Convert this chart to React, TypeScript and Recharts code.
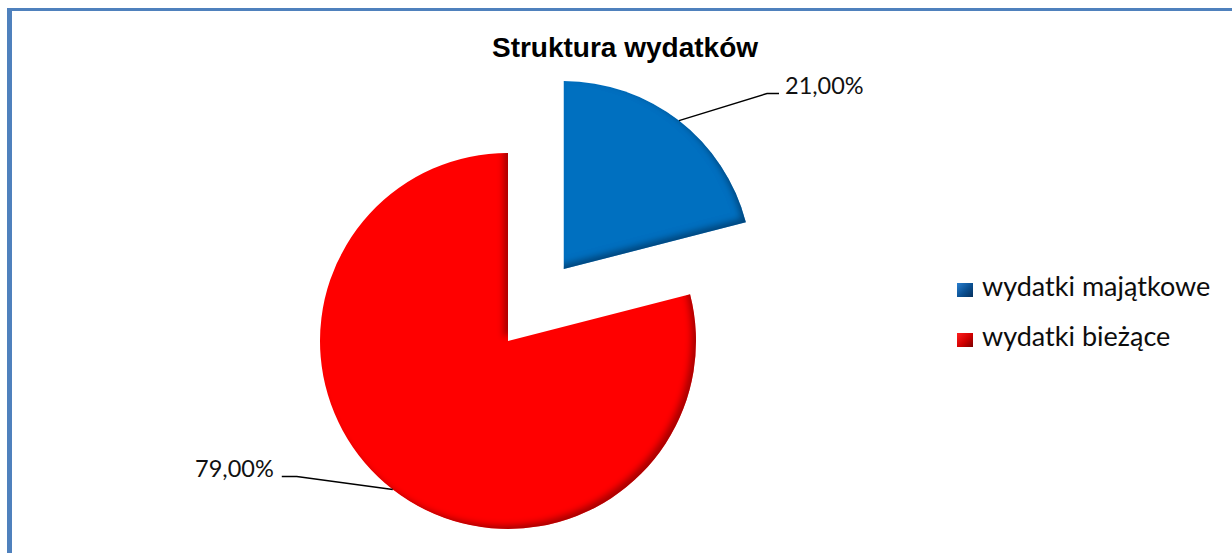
import React from 'react';
import { PieChart, Pie, Cell, Legend } from 'recharts';

const categories = ['wydatki majątkowe', 'wydatki bieżące'];
const shares = [21, 79];
const labelTexts = ['21,00%', '79,00%'];
const sliceColors = ['#0070C0', '#FF0000'];
const markerGradients = [
  'linear-gradient(135deg, #2a7fcf 0%, #0a4f91 55%, #06305c 100%)',
  'linear-gradient(135deg, #ff2020 0%, #d00000 55%, #7a0000 100%)',
];

const data = categories.map((name, i) => ({ name, value: shares[i] }));

const W = 1232;
const H = 553;
const CX = 508;
const CY = 341;
const R = 188;
const EXPLODE = 91;
const RADIAN = Math.PI / 180;

// blue slice is pulled out along its middle angle
const total = shares.reduce((a, b) => a + b, 0);
const blueMid = 90 - (shares[0] / total) * 180;
const blueCx = CX + EXPLODE * Math.cos(blueMid * RADIAN);
const blueCy = CY - EXPLODE * Math.sin(blueMid * RADIAN);

// leader line shape per slice: elbow offset from rim, then short horizontal tail
const leader = [
  { dx: 88, dy: -27, tail: 12 },
  { dx: -96, dy: -13, tail: -15 },
];

const FONT_BODY = 'Lato, "Open Sans", "Liberation Sans", sans-serif';

function renderLabel(props: any, only: number) {
  const { cx, cy, midAngle, outerRadius, index } = props;
  if (index !== only) return null;
  const sx = cx + outerRadius * Math.cos(-midAngle * RADIAN);
  const sy = cy + outerRadius * Math.sin(-midAngle * RADIAN);
  const l = leader[index];
  const ex = sx + l.dx;
  const ey = sy + l.dy;
  const tx = ex + l.tail;
  const right = l.tail > 0;
  return (
    <g key={`lbl-${index}`}>
      <path d={`M${sx},${sy}L${ex},${ey}L${tx},${ey}`} stroke="#000" strokeWidth={1.4} fill="none" />
      <text
        x={right ? tx + 6 : tx - 8}
        y={ey}
        textAnchor={right ? 'start' : 'end'}
        fill="#111"
        fontSize={23.5}
        fontFamily={FONT_BODY}
      >
        {labelTexts[index]}
      </text>
    </g>
  );
}

function LegendBox() {
  return (
    <div style={{ position: 'relative', fontFamily: FONT_BODY, height: 110 }}>
      {categories.map((c, i) => (
        <React.Fragment key={c}>
          <div
            style={{
              position: 'absolute',
              left: 0,
              top: 18 + i * 50,
              width: 16,
              height: 14,
              background: markerGradients[i],
            }}
          />
          <span
            style={{
              position: 'absolute',
              left: 25,
              top: 7 + i * 50,
              fontSize: 27,
              lineHeight: 1,
              color: '#0d0d0d',
              whiteSpace: 'nowrap',
            }}
          >
            {c}
          </span>
        </React.Fragment>
      ))}
    </div>
  );
}

export default function App() {
  return (
    <div style={{ position: 'fixed', left: 0, top: 0, width: W, height: H, background: '#fff', overflow: 'hidden' }}>
      <svg width={0} height={0} style={{ position: 'absolute' }}>
        <defs>
          <filter id="bevel" x="-10%" y="-10%" width="120%" height="120%">
            <feOffset in="SourceAlpha" dx={-5} dy={-4} result="off" />
            <feGaussianBlur in="off" stdDeviation={3} result="blur" />
            <feComposite in="SourceAlpha" in2="blur" operator="arithmetic" k2={1} k3={-1} result="rim" />
            <feFlood floodColor="#000" floodOpacity={0.6} />
            <feComposite in2="rim" operator="in" result="shadow" />
            <feMerge>
              <feMergeNode in="SourceGraphic" />
              <feMergeNode in="shadow" />
            </feMerge>
          </filter>
        </defs>
      </svg>

      {/* ramka wykresu */}
      <div
        style={{
          position: 'absolute',
          left: 7,
          top: 8,
          width: W + 20,
          height: H + 20,
          borderLeft: '5px solid #4F81BD',
          borderTop: '3px solid #4F81BD',
        }}
      />

      <div
        style={{
          position: 'absolute',
          left: 625,
          top: 34,
          transform: 'translateX(-50%)',
          fontFamily: '"Liberation Sans", Arial, sans-serif',
          fontWeight: 700,
          fontSize: 28,
          lineHeight: 1,
          color: '#000',
          whiteSpace: 'nowrap',
        }}
      >
        Struktura wydatków
      </div>

      <div style={{ position: 'absolute', left: 0, top: 0 }}>
        <PieChart width={W} height={H} margin={{ top: 0, right: 0, bottom: 0, left: 0 }}>
          <Pie
            data={data}
            dataKey="value"
            nameKey="name"
            cx={CX}
            cy={CY}
            outerRadius={R}
            startAngle={90}
            endAngle={-270}
            isAnimationActive={false}
            label={(p: any) => renderLabel(p, 1)}
            labelLine={false}
          >
            {data.map((d, i) => (
              <Cell
                key={d.name}
                fill={i === 1 ? sliceColors[1] : 'transparent'}
                stroke="none"
                filter={i === 1 ? 'url(#bevel)' : undefined}
              />
            ))}
          </Pie>
          <Pie
            data={data}
            dataKey="value"
            nameKey="name"
            cx={blueCx}
            cy={blueCy}
            outerRadius={R}
            startAngle={90}
            endAngle={-270}
            isAnimationActive={false}
            legendType="none"
            label={(p: any) => renderLabel(p, 0)}
            labelLine={false}
          >
            {data.map((d, i) => (
              <Cell
                key={d.name}
                fill={i === 0 ? sliceColors[0] : 'transparent'}
                stroke="none"
                filter={i === 0 ? 'url(#bevel)' : undefined}
              />
            ))}
          </Pie>
          <Legend
            layout="vertical"
            content={() => <LegendBox />}
            wrapperStyle={{ position: 'absolute', left: 957, top: 265, width: 270 }}
          />
        </PieChart>
      </div>
    </div>
  );
}
